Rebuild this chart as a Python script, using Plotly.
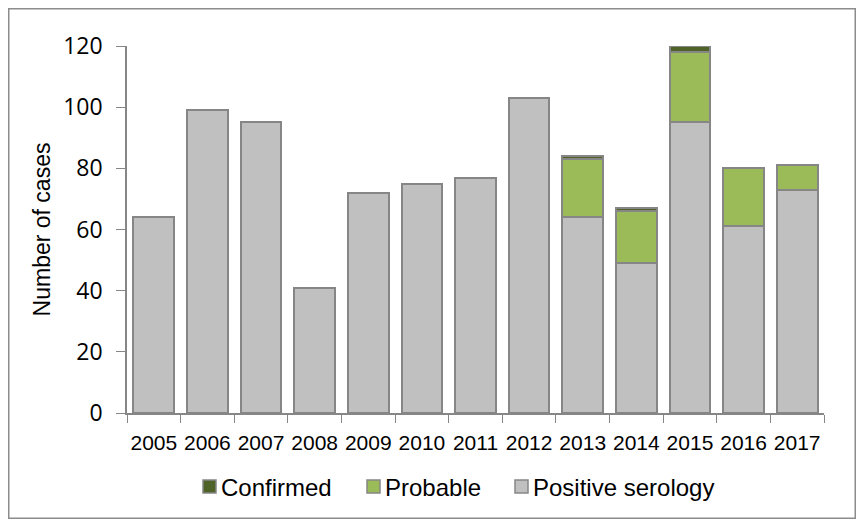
import plotly.graph_objects as go

years = ["2005", "2006", "2007", "2008", "2009", "2010", "2011",
         "2012", "2013", "2014", "2015", "2016", "2017"]
positive_serology = [64, 99, 95, 41, 72, 75, 77, 103, 64, 49, 95, 61, 73]
probable = [None, None, None, None, None, None, None, None, 19, 17, 23, 19, 8]
confirmed = [None, None, None, None, None, None, None, None, 1, 1, 2, None, None]

series_names = ["Confirmed", "Probable", "Positive serology"]
series_colors = ["#4F6228", "#9BBB59", "#C0C0C0"]

edge = "#868686"
fig = go.Figure()
fig.add_trace(go.Bar(x=years, y=positive_serology, name=series_names[2],
                     marker=dict(color=series_colors[2], line=dict(color=edge, width=2))))
fig.add_trace(go.Bar(x=years, y=probable, name=series_names[1],
                     marker=dict(color=series_colors[1], line=dict(color=edge, width=2))))
fig.add_trace(go.Bar(x=years, y=confirmed, name=series_names[0],
                     marker=dict(color=series_colors[0], line=dict(color=edge, width=2))))

# page body has an 8px margin: figure spans page px 8..856 x 8..519
OFF = 8
W, H = 848, 511
L, R, T, B = 119, 32, 38, 106
pw, ph = W - L - R, H - T - B

def px(x):  # page x -> paper
    return (x - OFF - L) / pw

def py(y):  # page y -> paper
    return (H - B - (y - OFF)) / ph

shapes = [dict(type="rect", xref="paper", yref="paper",
               x0=px(8.75), x1=px(855.25), y0=py(518.25), y1=py(8.75),
               line=dict(color="#8c8c8c", width=1.5), layer="below")]
annotations = []
legend_marker_x = [203, 367, 515]
for name, col, mx in zip(series_names, series_colors, legend_marker_x):
    shapes.append(dict(type="rect", xref="paper", yref="paper",
                       x0=px(mx), x1=px(mx + 13), y0=py(493), y1=py(480),
                       fillcolor=col, line=dict(color=edge, width=1.5)))
    annotations.append(dict(text=name, xref="paper", yref="paper",
                            x=px(mx + 16), y=py(487), xanchor="left", yanchor="middle",
                            showarrow=False,
                            font=dict(size=24, family="Liberation Sans, Arial", color="black")))

fig.update_layout(
    width=W, height=H,
    margin=dict(l=L, r=R, t=T, b=B, autoexpand=False),
    barmode="stack", bargap=0.24,
    plot_bgcolor="white", paper_bgcolor="white",
    font=dict(family="Liberation Sans, Arial, sans-serif", color="black"),
    showlegend=False,
    shapes=shapes, annotations=annotations,
)
fig.update_xaxes(
    type="category", showline=True, linecolor=edge, linewidth=1.5,
    ticks="outside", tickson="boundaries", ticklen=8, tickcolor=edge,
    tickangle=0, automargin=False, ticklabelstandoff=10,
    tickfont=dict(size=21, family="Liberation Sans, Arial"),
    showgrid=False, zeroline=False,
)
fig.update_yaxes(
    range=[0, 120], dtick=20, showline=True, linecolor=edge, linewidth=1.5,
    ticks="outside", ticklen=9, tickcolor=edge, automargin=False,
    tickfont=dict(size=23, family="Open Sans, Noto Sans"),
    ticklabelstandoff=9,
    showgrid=False, zeroline=False,
    title=dict(text="Number of cases", font=dict(size=23, family="Liberation Sans, Arial"),
               standoff=6),
)
fig.write_html("out.html")
